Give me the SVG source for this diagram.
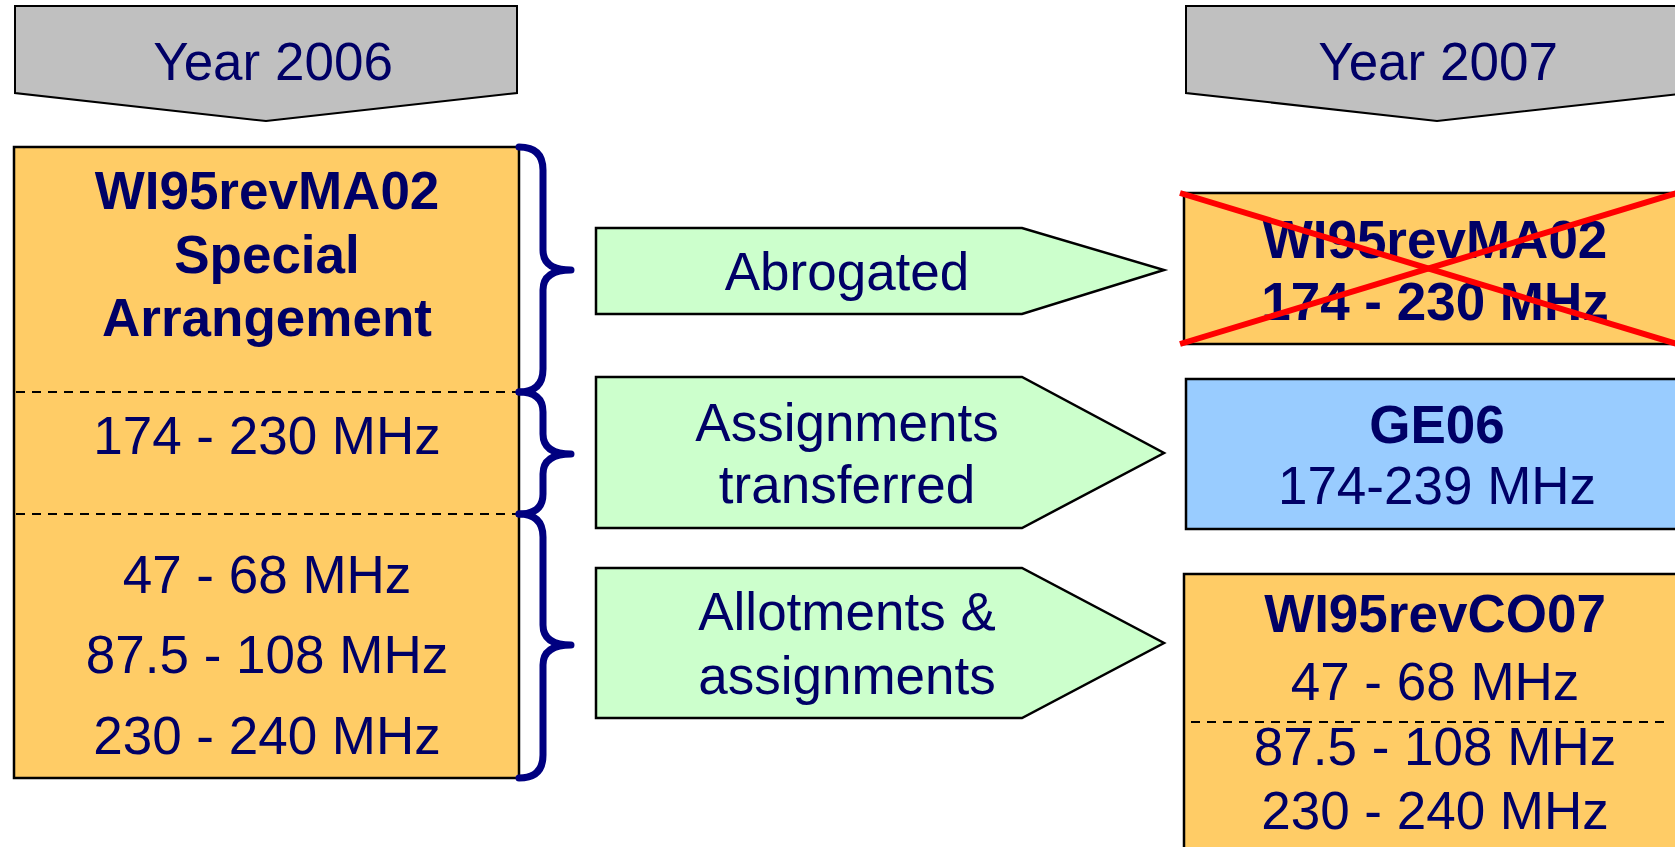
<svg xmlns="http://www.w3.org/2000/svg" width="1675" height="847" viewBox="0 0 1675 847">
  <style>
    .t { font-family: "Liberation Sans", Arial, sans-serif; font-size: 53px; fill: #000066; text-anchor: middle; }
    .b { font-weight: bold; }
    .year { fill: #C0C0C0; stroke: #000; stroke-width: 2; }
    .band { fill: #FFCC66; stroke: #000; stroke-width: 2.5; }
    .plan { fill: #99CCFF; stroke: #000; stroke-width: 2.5; }
    .step { fill: #CCFFCC; stroke: #000; stroke-width: 2.5; }
    .sep { stroke: #000; stroke-width: 2; stroke-dasharray: 9 7; fill: none; }
    .brace { fill: none; stroke: #000080; stroke-width: 7; stroke-linejoin: round; stroke-linecap: round; }
    .cross { stroke: #FF0000; stroke-width: 6; }
  </style>

  <!-- column headers -->
  <g id="year2006">
    <polygon class="year" points="15,6 517,6 517,93 266,121 15,93"/>
    <text class="t" x="273" y="80">Year 2006</text>
  </g>
  <g id="year2007">
    <polygon class="year" points="1186,6 1688,6 1688,93 1437,121 1186,93"/>
    <text class="t" x="1438" y="80">Year 2007</text>
  </g>

  <!-- 2006 special arrangement -->
  <g id="ma02-2006">
    <rect class="band" x="14" y="147" width="505" height="631"/>
    <line class="sep" x1="16" y1="392" x2="517" y2="392"/>
    <line class="sep" x1="16" y1="514" x2="517" y2="514"/>
    <text class="t b" x="267" y="209">WI95revMA02</text>
    <text class="t b" x="267" y="273">Special</text>
    <text class="t b" x="267" y="336">Arrangement</text>
    <text class="t" x="267" y="454">174 - 230 MHz</text>
    <text class="t" x="267" y="593">47 - 68 MHz</text>
    <text class="t" x="267" y="673">87.5 - 108 MHz</text>
    <text class="t" x="267" y="754">230 - 240 MHz</text>
  </g>

  <!-- 2007 outcomes -->
  <g id="ma02-2007">
    <rect class="band" x="1184" y="193" width="510" height="151"/>
    <text class="t b" x="1435" y="258">WI95revMA02</text>
    <text class="t b" x="1435" y="320">174 - 230 MHz</text>
    <line class="cross" x1="1180" y1="193" x2="1680" y2="345"/>
    <line class="cross" x1="1180" y1="344" x2="1680" y2="192"/>
  </g>
  <g id="ge06">
    <rect class="plan" x="1186" y="379" width="510" height="150"/>
    <text class="t b" x="1437" y="443">GE06</text>
    <text class="t" x="1437" y="504">174-239 MHz</text>
  </g>
  <g id="co07">
    <rect class="band" x="1184" y="574" width="510" height="290"/>
    <line class="sep" x1="1191" y1="722" x2="1666" y2="722"/>
    <text class="t b" x="1435" y="632">WI95revCO07</text>
    <text class="t" x="1435" y="700">47 - 68 MHz</text>
    <text class="t" x="1435" y="765">87.5 - 108 MHz</text>
    <text class="t" x="1435" y="829">230 - 240 MHz</text>
  </g>

  <!-- transitions -->
  <g id="abrogated">
    <polygon class="step" points="596,228 1022,228 1164,270 1022,314 596,314"/>
    <text class="t" x="847" y="290">Abrogated</text>
  </g>
  <g id="transferred">
    <polygon class="step" points="596,377 1022,377 1164,453 1022,528 596,528"/>
    <text class="t" x="847" y="441">Assignments</text>
    <text class="t" x="847" y="503">transferred</text>
  </g>
  <g id="allotments">
    <polygon class="step" points="596,568 1022,568 1164,643 1022,718 596,718"/>
    <text class="t" x="847" y="630">Allotments &amp;</text>
    <text class="t" x="847" y="694">assignments</text>
  </g>

  <!-- braces grouping the 2006 bands -->
  <g id="connectors">
    <path class="brace" d="M519,147 Q543,147 543,170 L543,250 Q543,270 571,270 Q543,270 543,290 L543,369 Q543,392 519,392"/>
    <path class="brace" d="M519,392 Q543,392 543,412 L543,434 Q543,454 571,454 Q543,454 543,474 L543,494 Q543,514 519,514"/>
    <path class="brace" d="M519,514 Q543,514 543,537 L543,625 Q543,645 571,645 Q543,645 543,665 L543,755 Q543,778 519,778"/>
  </g>
</svg>
